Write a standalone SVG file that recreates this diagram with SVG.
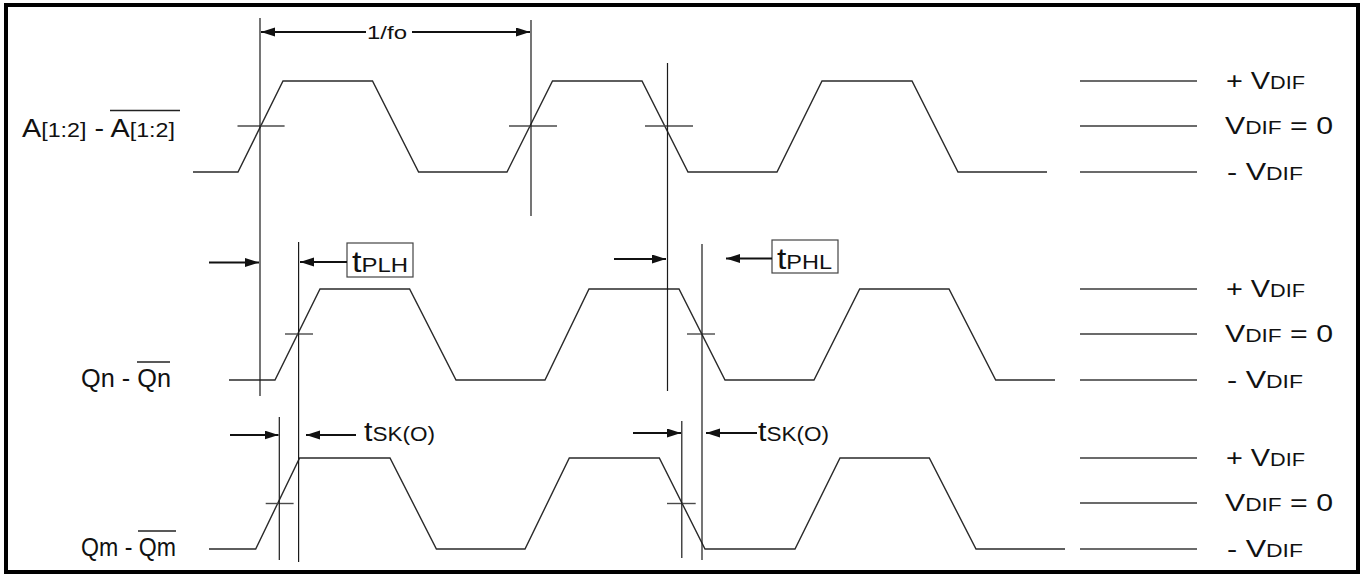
<svg xmlns="http://www.w3.org/2000/svg" width="1363" height="576" viewBox="0 0 1363 576">
<style>
.wave{fill:none;stroke:#2a2a2a;stroke-width:1.4;stroke-linejoin:miter}
.cross{stroke:#4a4a4a;stroke-width:1.4}
.vl{stroke:#1a1a1a;stroke-width:1.2}
.ref{stroke:#3a3a3a;stroke-width:1.4}
.arr{stroke:#111;stroke-width:2;fill:none}
.t{font-family:"Liberation Sans",Arial,Helvetica,sans-serif;fill:#111}
.box{fill:none;stroke:#444;stroke-width:1.2}
.ol{stroke:#222;stroke-width:1.5}
</style>
<defs>
<marker id="ah" markerUnits="userSpaceOnUse" markerWidth="15" markerHeight="10" refX="14" refY="4.5" orient="auto">
<path d="M0,0 L14,4.5 L0,9 z" fill="#111"/>
</marker>
</defs>
<rect x="6" y="5" width="1352" height="567" fill="#fff" stroke="#000" stroke-width="4"/>

<g id="signal-A">
<path class="wave" d="M193,172 H238 L283,81 H372.5 L418.6,172 H507 L552.5,81 H642 L688,172 H777 L822,81 H912 L958,172 H1047"/>
<line class="cross" x1="237.5" y1="126" x2="284.6" y2="126"/>
<line class="cross" x1="509" y1="126" x2="557" y2="126"/>
<line class="cross" x1="645" y1="126" x2="693" y2="126"/>
<text class="t" x="22" y="136.5" font-size="26" textLength="153" lengthAdjust="spacingAndGlyphs">A<tspan font-size="21">[1:2]</tspan> - A<tspan font-size="21">[1:2]</tspan></text>
<line class="ol" x1="110" y1="110.5" x2="180" y2="110.5"/>
</g>

<g id="signal-Qn">
<path class="wave" d="M229,380 H275 L320,289 H409.6 L456,380 H545 L589,289 H679 L725,380 H814 L859.7,289 H949 L995.7,380 H1055"/>
<line class="cross" x1="285" y1="334" x2="313" y2="334"/>
<line class="cross" x1="687" y1="334" x2="715" y2="334"/>
<text class="t" x="81" y="387" font-size="26" textLength="90" lengthAdjust="spacingAndGlyphs">Qn - Qn</text>
<line class="ol" x1="137" y1="362" x2="170" y2="362"/>
</g>

<g id="signal-Qm">
<path class="wave" d="M209,549 H255.7 L299.6,458 H390 L436.4,549 H525 L569.3,458 H659.3 L705,549 H795 L840,458 H929.3 L976,549 H1065"/>
<line class="cross" x1="265.7" y1="503.5" x2="293.6" y2="503.5"/>
<line class="cross" x1="667" y1="503.5" x2="695.7" y2="503.5"/>
<text class="t" x="81" y="556" font-size="26" textLength="95" lengthAdjust="spacingAndGlyphs">Qm - Qm</text>
<line class="ol" x1="138" y1="531" x2="176" y2="531"/>
</g>

<g id="legend-A">
<line class="ref" x1="1080" y1="81" x2="1197" y2="81"/>
<line class="ref" x1="1080" y1="126" x2="1197" y2="126"/>
<line class="ref" x1="1080" y1="172" x2="1197" y2="172"/>
<text class="t" x="1226" y="89" font-size="24" textLength="79" lengthAdjust="spacingAndGlyphs">+ V<tspan font-size="18">DIF</tspan></text>
<text class="t" x="1225" y="134" font-size="24" textLength="108" lengthAdjust="spacingAndGlyphs">V<tspan font-size="18">DIF</tspan> = 0</text>
<text class="t" x="1227" y="180" font-size="24" textLength="76" lengthAdjust="spacingAndGlyphs">- V<tspan font-size="18">DIF</tspan></text>
</g>

<g id="legend-Qn">
<line class="ref" x1="1080" y1="289" x2="1197" y2="289"/>
<line class="ref" x1="1080" y1="334" x2="1197" y2="334"/>
<line class="ref" x1="1080" y1="380" x2="1197" y2="380"/>
<text class="t" x="1226" y="297" font-size="24" textLength="79" lengthAdjust="spacingAndGlyphs">+ V<tspan font-size="18">DIF</tspan></text>
<text class="t" x="1225" y="342" font-size="24" textLength="108" lengthAdjust="spacingAndGlyphs">V<tspan font-size="18">DIF</tspan> = 0</text>
<text class="t" x="1227" y="388" font-size="24" textLength="76" lengthAdjust="spacingAndGlyphs">- V<tspan font-size="18">DIF</tspan></text>
</g>

<g id="legend-Qm">
<line class="ref" x1="1080" y1="458" x2="1197" y2="458"/>
<line class="ref" x1="1080" y1="503" x2="1197" y2="503"/>
<line class="ref" x1="1080" y1="549" x2="1197" y2="549"/>
<text class="t" x="1226" y="466" font-size="24" textLength="79" lengthAdjust="spacingAndGlyphs">+ V<tspan font-size="18">DIF</tspan></text>
<text class="t" x="1225" y="511" font-size="24" textLength="108" lengthAdjust="spacingAndGlyphs">V<tspan font-size="18">DIF</tspan> = 0</text>
<text class="t" x="1227" y="557" font-size="24" textLength="76" lengthAdjust="spacingAndGlyphs">- V<tspan font-size="18">DIF</tspan></text>
</g>

<g id="label-fo">
<text class="t" x="367" y="38.5" font-size="19" textLength="40" lengthAdjust="spacingAndGlyphs">1/fo</text>
</g>
<g id="label-tPLH">
<rect class="box" x="347" y="243" width="66" height="34"/>
<text class="t" x="352" y="272" font-size="30" textLength="56" lengthAdjust="spacingAndGlyphs">t<tspan font-size="21">PLH</tspan></text>
</g>
<g id="label-tPHL">
<rect class="box" x="772" y="240" width="66" height="33"/>
<text class="t" x="777" y="269" font-size="30" textLength="55" lengthAdjust="spacingAndGlyphs">t<tspan font-size="21">PHL</tspan></text>
</g>
<g id="label-tSK1">
<text class="t" x="364" y="441" font-size="27" textLength="71" lengthAdjust="spacingAndGlyphs">t<tspan font-size="20">SK(O)</tspan></text>
</g>
<g id="label-tSK2">
<text class="t" x="758" y="441" font-size="27" textLength="71" lengthAdjust="spacingAndGlyphs">t<tspan font-size="20">SK(O)</tspan></text>
</g>

<g id="connectors">
<line class="vl" x1="260" y1="18" x2="260" y2="396"/>
<line class="vl" x1="531" y1="20" x2="531" y2="216"/>
<line class="vl" x1="667.5" y1="63" x2="667.5" y2="391"/>
<line class="vl" x1="298.6" y1="242" x2="298.6" y2="562"/>
<line class="vl" x1="702" y1="244" x2="702" y2="560"/>
<line class="vl" x1="279.3" y1="417" x2="279.3" y2="560"/>
<line class="vl" x1="681.8" y1="421" x2="681.8" y2="558"/>
<line class="arr" x1="366" y1="32" x2="261" y2="32" marker-end="url(#ah)"/>
<line class="arr" x1="412" y1="32" x2="530" y2="32" marker-end="url(#ah)"/>
<line class="arr" x1="209" y1="262.5" x2="259" y2="262.5" marker-end="url(#ah)"/>
<line class="arr" x1="347" y1="262" x2="300" y2="262" marker-end="url(#ah)"/>
<line class="arr" x1="614" y1="259" x2="666" y2="259" marker-end="url(#ah)"/>
<line class="arr" x1="772" y1="258.5" x2="726" y2="258.5" marker-end="url(#ah)"/>
<line class="arr" x1="230" y1="435" x2="278.5" y2="435" marker-end="url(#ah)"/>
<line class="arr" x1="356" y1="435" x2="306" y2="435" marker-end="url(#ah)"/>
<line class="arr" x1="633" y1="433" x2="681" y2="433" marker-end="url(#ah)"/>
<line class="arr" x1="757" y1="433" x2="706" y2="433" marker-end="url(#ah)"/>
</g>
</svg>
